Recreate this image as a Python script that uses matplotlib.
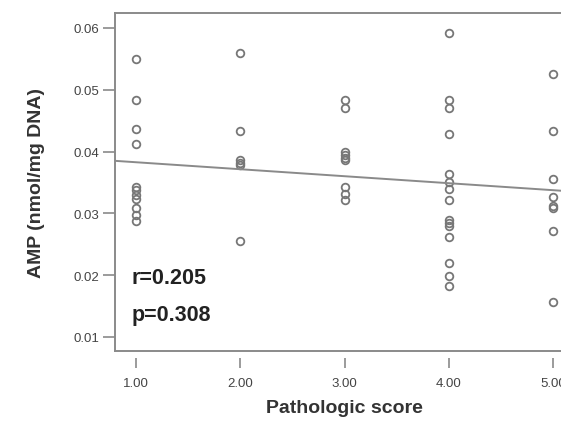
import matplotlib
matplotlib.use('Agg')
import matplotlib.pyplot as plt

# pathologic score groups and AMP values
score_1 = [0.0550, 0.0484, 0.0436, 0.0413, 0.0343, 0.0337, 0.0330, 0.0324, 0.0308, 0.0298, 0.0288]
score_2 = [0.0559, 0.0434, 0.0386, 0.0382, 0.0379, 0.0256]
score_3 = [0.0484, 0.0470, 0.0400, 0.0395, 0.0390, 0.0386, 0.0343, 0.0332, 0.0322]
score_4 = [0.0591, 0.0483, 0.0471, 0.0429, 0.0364, 0.0351, 0.0340, 0.0321, 0.0290,
           0.0284, 0.0279, 0.0262, 0.0220, 0.0199, 0.0183]
score_5 = [0.0526, 0.0434, 0.0355, 0.0326, 0.0312, 0.0308, 0.0272, 0.0156]
groups = {1.0: score_1, 2.0: score_2, 3.0: score_3, 4.0: score_4, 5.0: score_5}

fit_intercept = 0.0394
fit_slope = -0.00113

x_ticks = [1.0, 2.0, 3.0, 4.0, 5.0]
x_tick_labels = ["1.00", "2.00", "3.00", "4.00", "5.00"]
y_ticks = [0.01, 0.02, 0.03, 0.04, 0.05, 0.06]
y_tick_labels = ["0.01", "0.02", "0.03", "0.04", "0.05", "0.06"]

plt.rcParams['font.family'] = ['Liberation Sans', 'DejaVu Sans']

fig = plt.figure(figsize=(5.61, 4.27), dpi=100)
ax = fig.add_axes([0.205, 0.1756, 0.818, 0.7914])

gray = "#8a8a8a"
for x, vals in groups.items():
    ax.plot([x] * len(vals), vals, "o", ms=5.5, mfc="none", mec="#777777", mew=1.3)

ax.axline((0, fit_intercept), slope=fit_slope, color=gray, lw=1.4)

ax.set_xlim(0.798, 5.2)
ax.set_ylim(0.00773, 0.0624)

ax.set_xticks(x_ticks)
ax.set_xticklabels(x_tick_labels)
ax.set_yticks(y_ticks)
ax.set_yticklabels(y_tick_labels)

for s in ax.spines.values():
    s.set_color(gray)
    s.set_linewidth(1.4)
# detached x ticks: move the bottom spine out and hide it, redraw the box edge
ax.spines['bottom'].set_position(('outward', 5))
ax.spines['bottom'].set_color('none')
ax.plot([0, 1], [0, 0], transform=ax.transAxes, color=gray, lw=1.4, clip_on=False)

ax.tick_params(axis='both', direction='out', color=gray, width=1.2,
               labelsize=9.5, labelcolor="#444444")
ax.tick_params(axis='x', length=7.5, pad=6)
ax.tick_params(axis='y', length=9, pad=2)

ax.set_xlabel("Pathologic score", fontsize=14, fontweight='bold', color="#333333")
ax.set_ylabel("AMP (nmol/mg DNA)", fontsize=14, fontweight='bold', color="#333333")
ax.xaxis.set_label_coords(0.501, -0.142)
ax.yaxis.set_label_coords(-0.153, 0.5)

ax.text(0.037, 0.219, "r=0.205", transform=ax.transAxes, fontsize=15.5,
        fontweight='bold', color="#222222", va='center')
ax.text(0.037, 0.107, "p=0.308", transform=ax.transAxes, fontsize=15.5,
        fontweight='bold', color="#222222", va='center')

fig.savefig("out.png", dpi=100, facecolor="white")
